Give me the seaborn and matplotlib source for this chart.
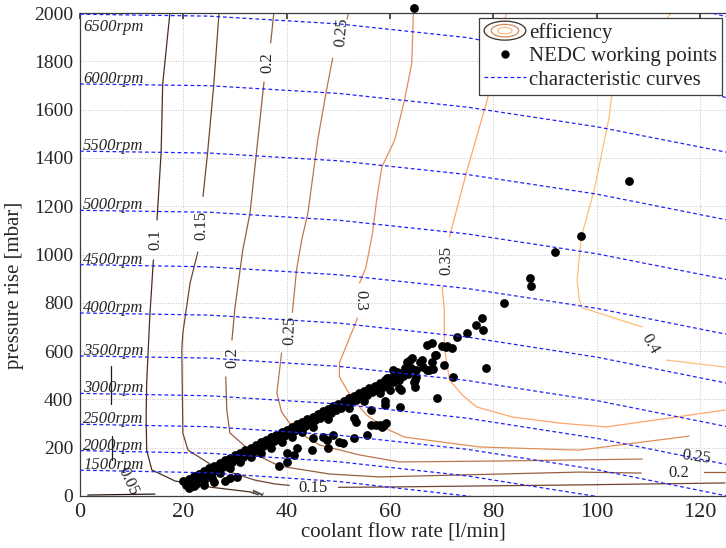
import matplotlib
matplotlib.use("Agg")
import matplotlib.pyplot as plt
import numpy as np
import pandas as pd
import seaborn as sns
from matplotlib.lines import Line2D
from matplotlib.patches import Ellipse
from matplotlib.legend_handler import HandlerBase

sns.set_theme(style="white")
plt.rcParams['font.family'] = ['Liberation Serif', 'DejaVu Serif']

# ---------------- characteristic curves (pump speed lines) ----------------
flow_grid = [0, 25, 50, 75, 100, 125]
rpm_values = [1500, 2000, 2500, 3000, 3500, 4000, 4500, 5000, 5500, 6000, 6500, 7000]
curve_1500 = [107, 96, 60, 0, -87, -200]
curve_2000 = [188, 177, 142, 83, -2, -110]
curve_2500 = [297, 287, 252, 193, 109, 1]
curve_3000 = [425, 415, 381, 322, 239, 131]
curve_3500 = [580, 571, 537, 478, 395, 288]
curve_4000 = [758, 749, 716, 658, 575, 468]
curve_4500 = [958, 949, 916, 859, 777, 670]
curve_5000 = [1183, 1175, 1142, 1085, 1003, 897]
curve_5500 = [1428, 1420, 1388, 1331, 1250, 1144]
curve_6000 = [1706, 1699, 1667, 1610, 1529, 1424]
curve_6500 = [1995, 1987, 1955, 1898, 1795, 1650]
curve_7000 = [2322, 2313, 2277, 2215, 2120, 1985]
curves = [curve_1500, curve_2000, curve_2500, curve_3000, curve_3500, curve_4000,
          curve_4500, curve_5000, curve_5500, curve_6000, curve_6500, curve_7000]

# ---------------- efficiency iso-lines (segments between inline labels) ----------------
eff_005 = [[(6.0, 538), (6.0, 381)], [(6.2, 248), (6.2, 149)], [(1.5, 4), (14.5, 8)]]
eff_010 = [[(17.4, 2000), (16.0, 1706), (15.7, 1424), (14.9, 1143)],
           [(14.2, 977), (13.5, 741), (12.9, 468), (12.8, 327), (12.9, 190), (13.9, 108),
            (18.4, 62), (25.1, 37), (32.9, 17), (34.5, 5)]]
eff_015 = [[(26.9, 2000), (25.9, 1706), (24.7, 1424), (23.8, 1240)],
           [(22.8, 1010), (21.3, 882), (19.9, 675), (19.7, 605), (19.9, 261), (20.9, 190),
            (26.1, 120), (33.8, 66), (37.7, 50), (40.5, 44)],
           [(50.0, 36), (58.0, 37), (96.6, 46), (124.8, 54)]]
eff_020 = [[(37.5, 2000), (36.9, 1876)],
           [(35.6, 1714), (34.2, 1433), (32.9, 1172), (31.5, 1019), (30.0, 783), (29.4, 646)],
           [(28.2, 493), (28.4, 356), (29.0, 261), (33.4, 178), (38.6, 124), (48.3, 91),
            (58.0, 79), (96.6, 99), (108.6, 95)],
           [(120.8, 99), (124.8, 99)]]
eff_025 = [[(51.9, 2000), (51.7, 1975)],
           [(48.9, 1814), (47.7, 1681), (46.0, 1474), (44.1, 1172), (42.9, 1060), (41.9, 936),
            (41.1, 760)],
           [(39.0, 592), (38.1, 427), (39.0, 348), (41.5, 273), (46.4, 211), (54.1, 170),
            (61.8, 141), (81.2, 145), (108.8, 153)]]
eff_030 = [[(64.5, 2000), (64.2, 1793), (62.8, 1640), (60.9, 1474), (58.4, 1362),
            (57.4, 1226), (56.6, 1089), (55.3, 944), (54.1, 882)],
           [(53.7, 737), (50.2, 551), (50.2, 493), (52.8, 398), (55.5, 335), (58.9, 282),
            (62.8, 244), (77.3, 203), (96.6, 190), (117.9, 248)]]
eff_035 = [[(82.5, 2000), (78.8, 1640), (77.3, 1528), (74.8, 1342), (71.5, 1073)],
           [(70.1, 865), (70.5, 770), (70.5, 617), (71.5, 480), (74.0, 418), (76.7, 369),
            (83.7, 327), (92.8, 302), (101.8, 286), (115.4, 327), (124.8, 356)]]
eff_040 = [[(114.4, 2000), (103.0, 1681), (102.4, 1569), (99.5, 1267), (97.0, 1073),
            (96.2, 894), (96.6, 812), (97.2, 779), (108.8, 700)],
           [(113.4, 563), (124.8, 534)]]
eff_levels = [0.05, 0.10, 0.15, 0.20, 0.25, 0.30, 0.35, 0.40]
eff_paths = [eff_005, eff_010, eff_015, eff_020, eff_025, eff_030, eff_035, eff_040]

# inline labels: (text, flow, pressure, rotation)
eff_labels = [("0.05", 9.3, 62, -65), ("0.1", 14.6, 1060, 90), ("0.1", 34.3, -8, 65),
              ("0.15", 23.5, 1122, 90), ("0.15", 45.0, 33, 0),
              ("0.2", 36.3, 1793, 90), ("0.2", 29.4, 571, 90), ("0.2", 115.9, 95, 0),
              ("0.25", 50.6, 1921, 85), ("0.25", 40.6, 687, 88), ("0.25", 119.2, 161, -8),
              ("0.3", 54.2, 812, -90), ("0.3", 126.8, 253, -8),
              ("0.35", 70.9, 975, 90), ("0.4", 110.3, 629, -60)]

# ---------------- NEDC working points ----------------
nedc_band_upper = [(20, 61), (21, 72), (22, 83), (23, 93), (24, 104), (25, 115), (26, 125),
                   (27, 136), (28, 147), (29, 158), (30, 168), (31, 179), (32, 190), (33, 200),
                   (34, 211), (35, 222), (36, 233), (37, 243), (38, 254), (39, 265), (40, 275),
                   (41, 286), (42, 297), (43, 308), (44, 318), (45, 329), (46, 340), (47, 350),
                   (48, 361), (49, 372), (50, 383), (51, 393), (52, 404), (53, 415), (54, 425),
                   (55, 436), (56, 447), (57, 457), (58, 468), (59, 479), (60, 490), (61, 500),
                   (62, 511), (63, 522), (64, 532)]
nedc_band_lower = [(20.5, 44), (21.5, 55), (22.5, 66), (23.5, 77), (24.5, 87), (25.5, 98),
                   (26.5, 109), (27.5, 120), (28.5, 130), (29.5, 141), (30.5, 152), (31.5, 163),
                   (32.5, 173), (33.5, 184), (34.5, 195), (35.5, 205), (36.5, 216), (37.5, 227),
                   (38.5, 238), (39.5, 248), (40.5, 259), (41.5, 270), (42.5, 280), (43.5, 291),
                   (44.5, 302), (45.5, 313), (46.5, 323), (47.5, 334), (48.5, 345), (49.5, 355),
                   (50.5, 366), (51.5, 377), (52.5, 388), (53.5, 398), (54.5, 409), (55.5, 420),
                   (56.5, 430), (57.5, 441), (58.5, 452), (59.5, 463), (60.5, 473), (61.5, 484),
                   (62.5, 495), (63.5, 505)]
nedc_band_extra = [(21, 35), (22, 40), (22.5, 50), (24, 45), (24, 62), (25.5, 75), (26, 58),
                   (27, 95), (28, 62), (29, 75), (29, 115), (30.3, 79), (31, 140), (33, 160),
                   (35, 180), (37, 200), (39, 225), (41, 245), (43, 265), (45, 285), (48, 320),
                   (52, 365), (55, 395), (58, 428)]
nedc_scattered = [(38.6, 124), (40.0, 141), (40.0, 178), (41.5, 170), (41.9, 199), (44.8, 190),
                  (45.0, 240), (47.0, 244), (47.7, 232), (48.9, 253), (47.9, 199), (50.2, 224),
                  (50.8, 219), (53.1, 323), (53.5, 306), (53.1, 240), (55.5, 253), (56.4, 356),
                  (56.4, 294), (57.2, 294), (58.0, 294), (58.8, 294), (59.3, 302), (58.4, 286),
                  (62.0, 369), (59.1, 377), (59.1, 393), (61.8, 447), (64.7, 472), (65.1, 522),
                  (66.3, 534), (67.1, 522), (68.6, 584), (68.2, 555), (70.9, 617), (71.9, 613),
                  (70.5, 542), (72.1, 493), (69.0, 406), (67.1, 625), (68.2, 634), (72.9, 658),
                  (74.8, 675), (76.7, 708), (68.4, 526), (68.8, 584), (70.1, 621), (71.1, 621),
                  (77.9, 687), (77.7, 737), (78.6, 530), (63.8, 563), (66.1, 563), (64.3, 571),
                  (63.2, 555), (65.7, 555), (67.6, 522), (60.5, 522), (61.3, 513), (62.8, 530),
                  (65.1, 493), (61.8, 480), (59.5, 489), (58.6, 451), (59.9, 439), (62.2, 439),
                  (64.9, 451), (64.9, 480), (82.1, 799), (87.3, 870), (87.1, 903), (92.0, 1010),
                  (97.0, 1077), (106.3, 1304), (64.7, 2020)]

# ---------------- figure ----------------
fig = plt.figure(figsize=(7.26, 5.48), dpi=100)
ax = fig.add_axes([80 / 726, 52 / 548, 646 / 726, 483 / 548])

cmap = plt.get_cmap('copper')


def draw_path(pts, color, lw, ls='-', z=2):
    df = pd.DataFrame(pts, columns=['q', 'p'])
    sns.lineplot(data=df, x='q', y='p', sort=False, estimator=None, color=color,
                 linewidth=lw, linestyle=ls, ax=ax, zorder=z, legend=False)


for lev, segs in zip(eff_levels, eff_paths):
    col = cmap(min(lev / 0.42, 1.0))
    for seg in segs:
        draw_path(seg, col, 0.9, '-', 2)

pts_all = nedc_band_upper + nedc_band_lower + nedc_band_extra + nedc_scattered
nedc_df = pd.DataFrame(pts_all, columns=['flow', 'pressure'])
sns.scatterplot(data=nedc_df, x='flow', y='pressure', color='black', s=40, linewidth=0,
                ax=ax, zorder=3, clip_on=False, legend=False)

for rpm, vals in zip(rpm_values, curves):
    draw_path(list(zip(flow_grid, vals)), '#1f1fff', 0.9, (0, (3, 2.2)), 4)
    if rpm <= 6000:
        ax.text(0.6, vals[0] + 4, f"{rpm}rpm", fontsize=12, style='italic',
                va='baseline', ha='left', zorder=6, clip_on=True)
    elif rpm == 6500:
        ax.text(0.6, 1925, f"{rpm}rpm", fontsize=12, style='italic',
                va='baseline', ha='left', zorder=6, clip_on=True)

for txt, q, p, rot in eff_labels:
    ax.text(q, p, txt, fontsize=12, rotation=rot, ha='center', va='center',
            rotation_mode='anchor', zorder=6, clip_on=True)

ax.set_xlim(0, 125)
ax.set_ylim(0, 2000)
ax.set_xticks(np.arange(0, 121, 20))
ax.set_yticks(np.arange(0, 2001, 200))
ax.grid(True, linestyle=':', color='#c4c4c4', linewidth=0.7)
ax.set_axisbelow(True)
for side in ['left', 'bottom', 'top']:
    ax.spines[side].set_color('#3c3c3c')
    ax.spines[side].set_linewidth(0.9)
ax.spines['right'].set_visible(False)
ax.tick_params(axis='x', labelsize=16, direction='in', length=4, pad=5, top=True,
               color='#3c3c3c')
ax.tick_params(axis='y', labelsize=14, direction='in', length=4, pad=5, color='#3c3c3c')
ax.set_xlabel("coolant flow rate [l/min]", fontsize=15)
ax.set_ylabel("pressure rise [mbar]", fontsize=15)
ax.xaxis.set_label_coords(0.5, -0.056)
ax.yaxis.set_label_coords(-0.086, 0.437)


class HandlerEff(HandlerBase):
    def create_artists(self, legend, orig_handle, xdescent, ydescent, width, height,
                       fontsize, trans):
        cx = 0.5 * width - xdescent
        cy = 0.5 * height - ydescent
        arts = []
        for frac, col in zip([1.0, 0.66, 0.34], ['#3a2c22', '#d48a55', '#ffbb80']):
            arts.append(Ellipse((cx, cy), width * frac, height * 1.3 * frac, fill=False,
                                edgecolor=col, linewidth=0.9, transform=trans))
        return arts


eff_handle = Line2D([], [])
nedc_handle = Line2D([], [], marker='o', color='black', linestyle='none', markersize=5)
curve_handle = Line2D([], [], color='#1f1fff', linewidth=0.9, linestyle=(0, (3, 2.2)))
leg = ax.legend([eff_handle, nedc_handle, curve_handle],
                ['efficiency', 'NEDC working points', 'characteristic curves'],
                handler_map={eff_handle: HandlerEff()},
                loc='upper right', bbox_to_anchor=(0.994, 0.990), fontsize=15,
                frameon=True, fancybox=False, framealpha=1, edgecolor='#3c3c3c',
                handlelength=2.0, handletextpad=0.15, labelspacing=0.18, borderpad=0.25,
                borderaxespad=0)
leg.get_frame().set_linewidth(0.9)
leg.set_zorder(10)

fig.savefig("out.png", dpi=100)
